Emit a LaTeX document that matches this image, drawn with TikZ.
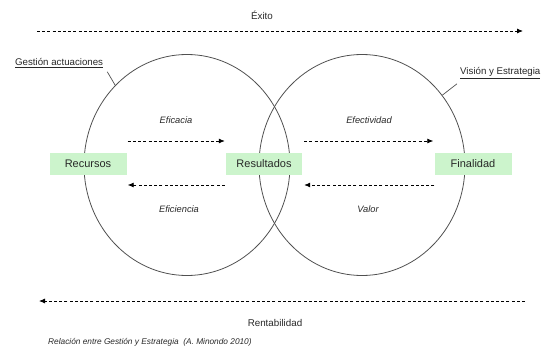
\documentclass[tikz,border=0pt]{standalone}
\usepackage{fontspec}
\setmainfont{Liberation Sans}
\usetikzlibrary{arrows.meta,shapes.geometric}
\definecolor{boxgreen}{RGB}{204,244,204}
\definecolor{ink}{RGB}{40,40,40}
\definecolor{ringcol}{RGB}{80,80,80}
\tikzset{
  ring/.style={ellipse,draw=ringcol,line width=0.8pt,minimum width=206pt,minimum height=221pt,inner sep=0pt},
  termbox/.style={fill=boxgreen,text=ink,minimum width=77pt,minimum height=22pt,inner sep=0pt,font=\fontsize{11}{13}\selectfont},
  flow/.style={draw=black,line width=0.8pt,dash pattern=on 3pt off 2.2pt,-{Latex[length=6pt,width=5pt]}},
  lbl/.style={text=ink,inner sep=0pt,font=\fontsize{9.8}{12}\selectfont},
  ilbl/.style={text=ink,inner sep=0pt,font=\fontsize{9.3}{11}\selectfont\itshape},
  ulbl/.style={text=ink,inner sep=0pt,font=\fontsize{9.7}{12}\selectfont},
  leader/.style={draw=ringcol,line width=0.7pt}
}
\begin{document}
\begin{tikzpicture}[x=1pt,y=-1pt]
\useasboundingbox (0,0) rectangle (550,351);
% rings
\node[ring] (L) at (187,165) {};
\node[ring] (R) at (362,165) {};
% boxes
\node[termbox] (rec) at (88,164) {Recursos};
\node[termbox,minimum width=76pt] (res) at (264,164) {Resultados};
\node[termbox] (fin) at (473,164) {Finalidad};
% inner arrows
\draw[flow] ([yshift=23pt,xshift=1pt]rec.east) -- ([yshift=23pt,xshift=-1pt]res.west);
\draw[flow] ([yshift=-21pt,xshift=-1pt]res.west) -- ([yshift=-21pt,xshift=1pt]rec.east);
\draw[flow] ([yshift=23pt,xshift=2pt]res.east) -- ([yshift=23pt,xshift=-1pt]fin.west);
\draw[flow] ([yshift=-21pt,xshift=0pt]fin.west) -- ([yshift=-21pt,xshift=2pt]res.east);
% inner labels
\node[ilbl] (efa) at (176,120) {Eficacia};
\node[ilbl] (efe) at (369,120) {Efectividad};
\node[ilbl] (efi) at (179,209) {Eficiencia};
\node[ilbl] (val) at (368,209) {Valor};
% top / bottom arrows
\node[lbl] (exito) at (262,15) {Éxito};
\coordinate (ea) at (37,31);
\coordinate (eb) at (523,31);
\draw[flow] (ea) -- (eb);
\coordinate (ra) at (525,301);
\coordinate (rb) at (39,301);
\draw[flow] (ra) -- (rb);
\node[lbl] (rent) at (275,323) {Rentabilidad};
% side labels
\node[ulbl,anchor=west] (gest) at (15,63) {\underline{Gestión actuaciones}};
\node[ulbl,anchor=west] (vis) at (460,73) {\underline{Visión y Estrategia}};
\draw[leader] ([xshift=4pt,yshift=-4pt]gest.south east) -- (L.132);
\draw[leader] ([xshift=-3pt,yshift=-5pt]vis.south west) -- (R.41);
% caption
\node[anchor=west,text=ink,inner sep=0pt,font=\fontsize{8.3}{10}\selectfont\itshape] (cap) at (48,342) {Relación entre Gestión y Estrategia\ \ (A. Minondo 2010)};
\end{tikzpicture}
\end{document}
